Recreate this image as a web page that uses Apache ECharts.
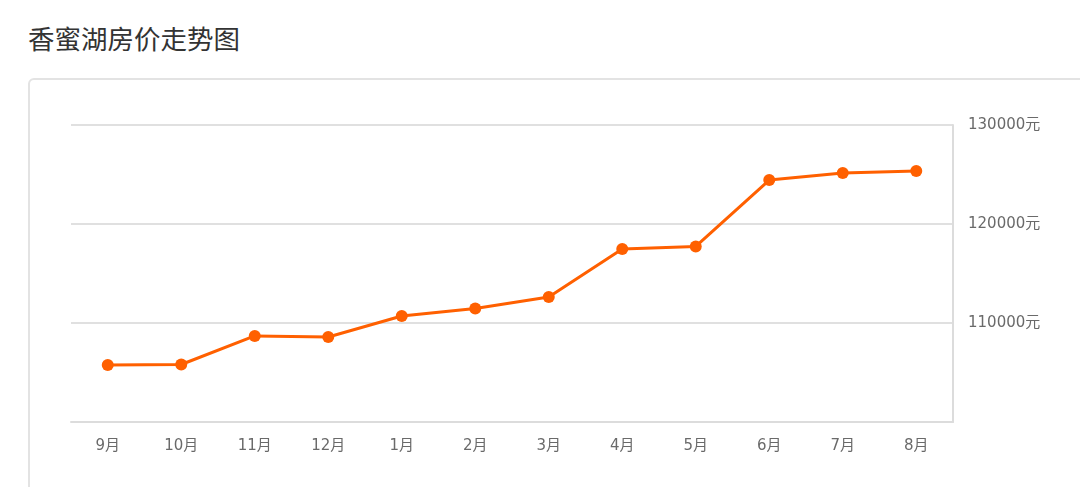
<!DOCTYPE html>
<html>
<head>
<meta charset="utf-8">
<script src="https://cdn.jsdelivr.net/npm/echarts@6/dist/echarts.min.js"></script>
<style>
  html, body { margin: 0; padding: 0; background: #fff; }
  #wrap { position: relative; width: 1080px; height: 487px; overflow: hidden; }
  #title { position: absolute; left: 28px; top: 18px; font-family: "Noto Sans CJK SC", sans-serif; font-size: 26.5px; color: #333; }
  #box { position: absolute; left: 28px; top: 78px; width: 1100px; height: 500px; border: 2px solid #e3e3e3; border-radius: 6px; box-sizing: border-box; }
  #chart { position: absolute; left: 0; top: 0; width: 1080px; height: 487px; }
</style>
</head>
<body>
<div id="wrap">
  <div id="title">香蜜湖房价走势图</div>
  <div id="box"></div>
  <div id="chart"></div>
</div>
<script>
  // 月份与房价（元/平方米）
  const months = ['9月', '10月', '11月', '12月', '1月', '2月', '3月', '4月', '5月', '6月', '7月', '8月']
  const prices = [105760, 105810, 108690, 108590, 110710, 111460, 112630, 117470, 117730, 124440, 125150, 125350]

  const labelFont = '"DejaVu Sans", "Noto Sans CJK SC", sans-serif'
  const chart = echarts.init(document.getElementById('chart'), null, { renderer: 'canvas' })

  chart.setOption({
    backgroundColor: 'transparent',
    animation: false,
    grid: { left: 71, right: 127, top: 125, bottom: 65, containLabel: false },
    xAxis: {
      type: 'category',
      data: months,
      boundaryGap: true,
      axisLine: { lineStyle: { color: '#dcdcdc', width: 2 } },
      axisTick: { alignWithLabel: true, length: 5, lineStyle: { color: '#dcdcdc' } },
      axisLabel: { color: '#6a6a6a', fontSize: 15, margin: 17, fontFamily: labelFont },
    },
    yAxis: {
      type: 'value',
      position: 'right',
      min: 100000,
      max: 130000,
      interval: 10000,
      axisLine: { show: true, lineStyle: { color: '#dcdcdc', width: 2 } },
      axisTick: { show: false },
      axisLabel: {
        color: '#6a6a6a',
        fontSize: 15,
        margin: 15,
        showMinLabel: false,
        fontFamily: labelFont,
        formatter: v => v + '元',
      },
      splitLine: { lineStyle: { color: '#e0e0e0', width: 2 } },
    },
    series: [
      {
        type: 'line',
        data: prices,
        symbol: 'circle',
        symbolSize: 12,
        lineStyle: { color: '#ff6000', width: 3 },
        itemStyle: { color: '#ff6000' },
      },
    ],
  })
</script>
</body>
</html>
